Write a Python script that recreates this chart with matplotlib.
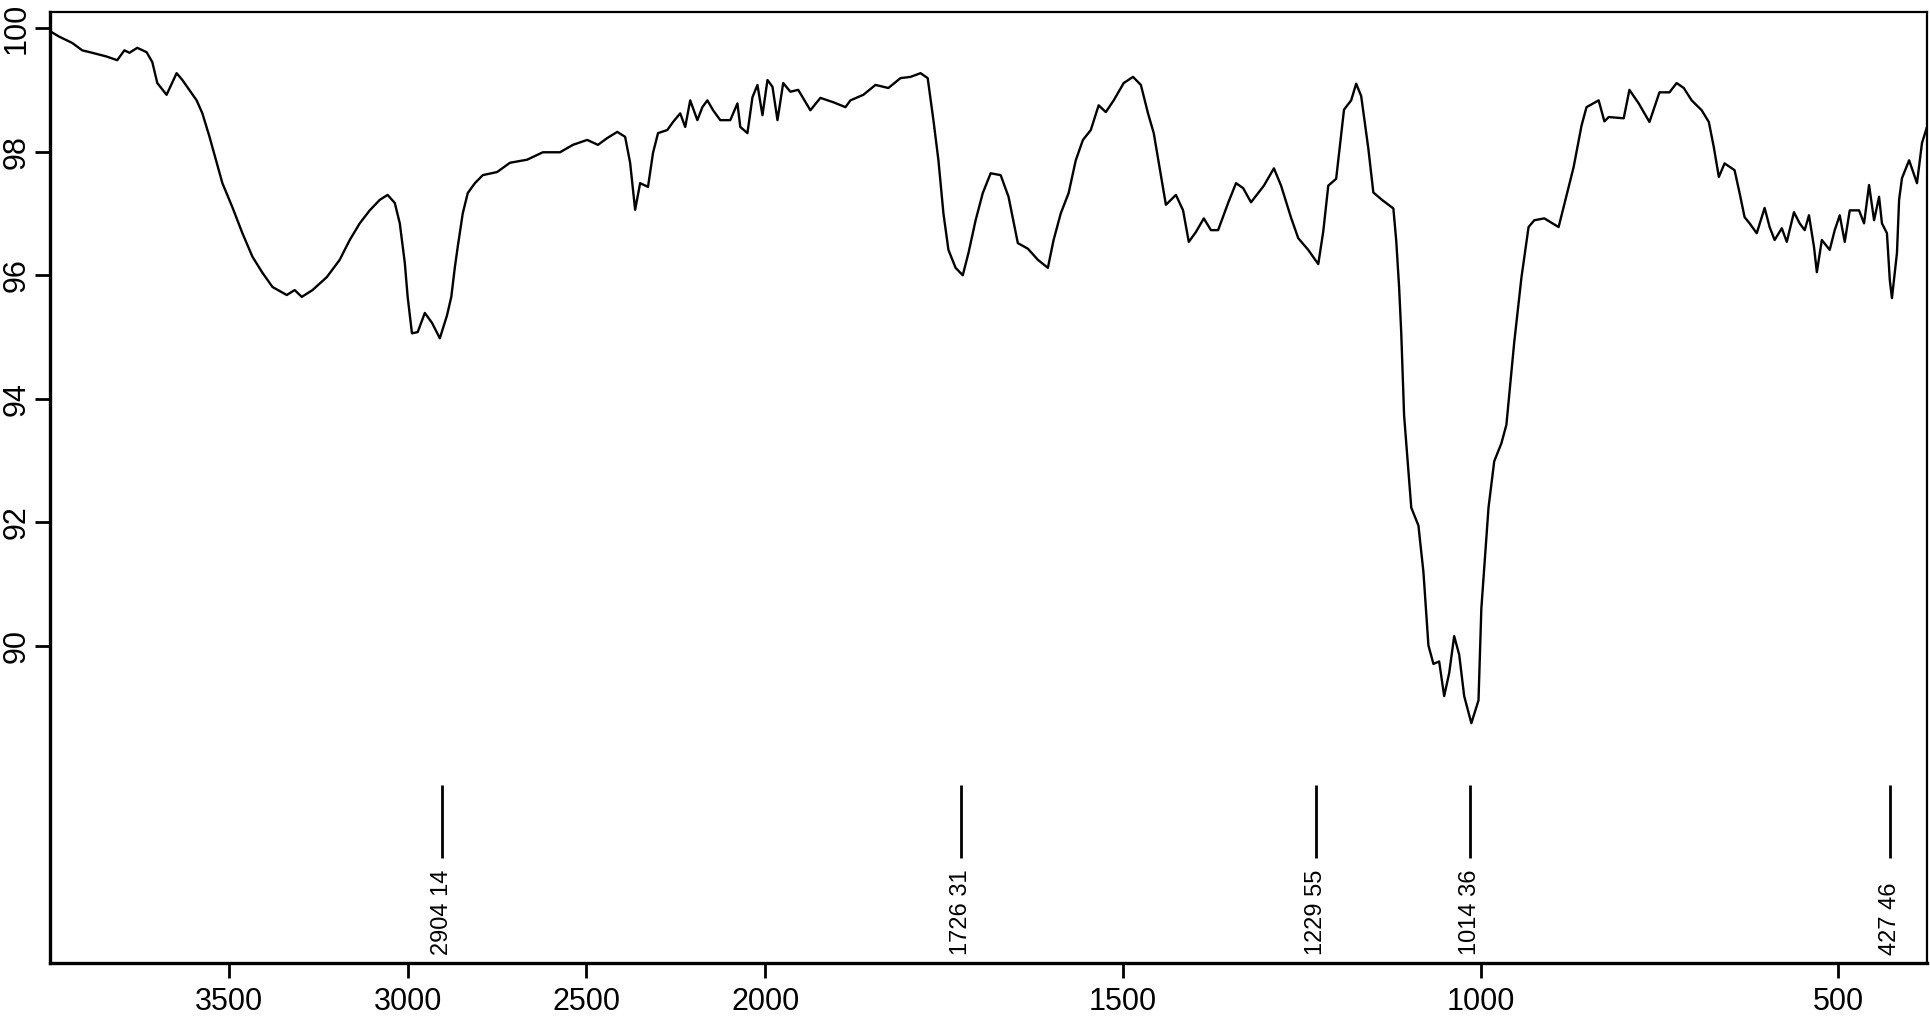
import numpy as np
import matplotlib
matplotlib.use("Agg")
import matplotlib.pyplot as plt

plt.rcParams['font.family'] = ['Liberation Sans', 'DejaVu Sans']

# IR spectrum (wavenumber cm-1, %T)
wavenumber = [
    4000, 3974, 3938, 3910, 3882, 3842, 3812, 3792, 3778, 3756, 3730, 3714,
    3700, 3674, 3646, 3630, 3590, 3574, 3554, 3534, 3518, 3490, 3462, 3434,
    3406, 3378, 3338, 3316, 3296, 3266, 3226, 3190, 3162, 3134, 3106, 3078,
    3056, 3036, 3022, 3008, 3000, 2988, 2972, 2952, 2932, 2910, 2890, 2878,
    2868, 2860, 2846, 2832, 2812, 2790, 2750, 2714, 2666, 2622, 2574, 2538,
    2498, 2468, 2442, 2414, 2392, 2378, 2364, 2350, 2328, 2314, 2300, 2274,
    2258, 2238, 2224, 2210, 2190, 2176, 2162, 2146, 2126, 2098, 2078, 2070,
    2050, 2036, 2022, 2008, 1997, 1990, 1983, 1975, 1965, 1954, 1937, 1923,
    1905, 1888, 1881, 1863, 1846, 1828, 1811, 1797, 1783, 1773, 1765, 1758,
    1751, 1744, 1734, 1724, 1716, 1706, 1696, 1685, 1671, 1660, 1647, 1633,
    1619, 1605, 1597, 1587, 1576, 1566, 1556, 1545, 1534, 1524, 1513, 1499,
    1486, 1475, 1465, 1457, 1450, 1440, 1426, 1416, 1408, 1398, 1387, 1377,
    1367, 1353, 1342, 1332, 1321, 1303, 1289, 1279, 1265, 1255, 1241, 1227,
    1220, 1213, 1202, 1195, 1191, 1181, 1174, 1167, 1157, 1150, 1139, 1122,
    1118, 1114, 1111, 1107, 1101, 1097, 1087, 1080, 1073, 1066, 1058, 1051,
    1044, 1037, 1030, 1023, 1013, 1003, 999, 989, 981, 971, 964, 953,
    943, 933, 925, 911, 891, 883, 870, 859, 852, 835, 827, 821,
    800, 792, 779, 764, 750, 736, 726, 716, 705, 691, 681, 674,
    667, 659, 645, 638, 631, 624, 614, 603, 596, 589, 579, 572,
    562, 554, 547, 541, 534, 530, 523, 512, 505, 498, 491, 484,
    471, 464, 457, 450, 443, 439, 432, 428, 425, 418, 415, 411,
    401, 390, 383, 376,
]
transmittance = [
    99.95, 99.86, 99.76, 99.64, 99.60, 99.54, 99.48, 99.64, 99.60, 99.68, 99.61, 99.45,
    99.11, 98.92, 99.27, 99.16, 98.83, 98.62, 98.24, 97.82, 97.49, 97.10, 96.68, 96.30,
    96.04, 95.81, 95.68, 95.76, 95.65, 95.76, 95.97, 96.25, 96.57, 96.84, 97.05, 97.22,
    97.30, 97.17, 96.84, 96.20, 95.65, 95.06, 95.08, 95.39, 95.23, 94.98, 95.35, 95.65,
    96.13, 96.46, 97.00, 97.33, 97.49, 97.62, 97.67, 97.82, 97.87, 97.99, 97.99, 98.11,
    98.19, 98.11, 98.22, 98.32, 98.24, 97.82, 97.06, 97.49, 97.43, 97.98, 98.30, 98.35,
    98.48, 98.62, 98.40, 98.83, 98.51, 98.72, 98.83, 98.67, 98.51, 98.51, 98.78, 98.40,
    98.30, 98.88, 99.08, 98.59, 99.16, 99.05, 98.51, 99.11, 98.97, 99.00, 98.67, 98.87,
    98.80, 98.72, 98.83, 98.92, 99.08, 99.03, 99.19, 99.21, 99.27, 99.19, 98.51, 97.86,
    97.00, 96.41, 96.12, 96.00, 96.36, 96.89, 97.33, 97.65, 97.62, 97.27, 96.52, 96.43,
    96.25, 96.12, 96.57, 97.00, 97.33, 97.86, 98.19, 98.35, 98.75, 98.64, 98.83, 99.11,
    99.21, 99.08, 98.62, 98.30, 97.82, 97.14, 97.30, 97.05, 96.54, 96.70, 96.92, 96.73,
    96.73, 97.17, 97.49, 97.41, 97.18, 97.45, 97.73, 97.45, 96.93, 96.60, 96.41, 96.18,
    96.71, 97.45, 97.56, 98.27, 98.68, 98.83, 99.10, 98.90, 98.05, 97.34, 97.23, 97.08,
    96.56, 95.81, 95.07, 93.73, 92.84, 92.24, 91.95, 91.20, 90.01, 89.71, 89.75, 89.19,
    89.56, 90.16, 89.86, 89.19, 88.75, 89.12, 90.61, 92.24, 92.99, 93.28, 93.58, 94.92,
    95.96, 96.78, 96.89, 96.92, 96.78, 97.15, 97.75, 98.42, 98.72, 98.83, 98.49, 98.56,
    98.54, 99.00, 98.78, 98.48, 98.96, 98.96, 99.11, 99.03, 98.83, 98.67, 98.48, 98.07,
    97.59, 97.81, 97.70, 97.33, 96.94, 96.84, 96.68, 97.09, 96.78, 96.57, 96.76, 96.54,
    97.02, 96.84, 96.73, 96.97, 96.46, 96.05, 96.57, 96.41, 96.73, 96.97, 96.54, 97.05,
    97.05, 96.84, 97.46, 96.89, 97.27, 96.84, 96.68, 95.92, 95.63, 96.36, 97.22, 97.57,
    97.86, 97.49, 98.14, 98.40,
]

peak_pos = [2904.14, 1726.31, 1229.55, 1014.36, 427.46]
peak_labels = ["2904 14", "1726 31", "1229 55", "1014 36", "427 46"]

x_ticks = [3500, 3000, 2500, 2000, 1500, 1000, 500]
y_ticks = [90, 92, 94, 96, 98, 100]


# spectrometer style axis: above 2000 cm-1 the scale is compressed by 2
def fwd(x):
    x = np.asarray(x, dtype=float)
    return np.where(x > 2000, 2000 + (x - 2000) / 2.0, x)


def inv(v):
    v = np.asarray(v, dtype=float)
    return np.where(v > 2000, 2000 + (v - 2000) * 2.0, v)


fig = plt.figure(figsize=(19.31, 10.16), dpi=100)
ax = fig.add_axes([50 / 1931, 53 / 1016, 1877 / 1931, 951 / 1016])
ax.set_xscale('function', functions=(fwd, inv))

ax.plot(wavenumber, transmittance, color='black', lw=1.7)

for pos, lab in zip(peak_pos, peak_labels):
    ax.plot([pos, pos], [86.57, 87.75], color='black', lw=2.0, solid_capstyle='butt')
    ax.text(pos, 85.0, lab, rotation=90, ha='center', va='bottom', fontsize=17)

ax.set_xlim(4000, 376)
ax.set_ylim(84.87, 100.26)
ax.set_xticks(x_ticks)
ax.set_xticklabels([str(t) for t in x_ticks])
ax.set_yticks(y_ticks)
ax.set_yticklabels([str(t) for t in y_ticks], rotation=90, va='center')
ax.minorticks_off()

ax.tick_params(axis='x', length=11, width=2, labelsize=22, pad=6)
ax.tick_params(axis='y', length=11, width=2, labelsize=22, pad=2)

for side in ['left', 'bottom']:
    ax.spines[side].set_linewidth(2.4)
for side in ['top', 'right']:
    ax.spines[side].set_linewidth(1.6)

fig.savefig("out.png", dpi=100)
